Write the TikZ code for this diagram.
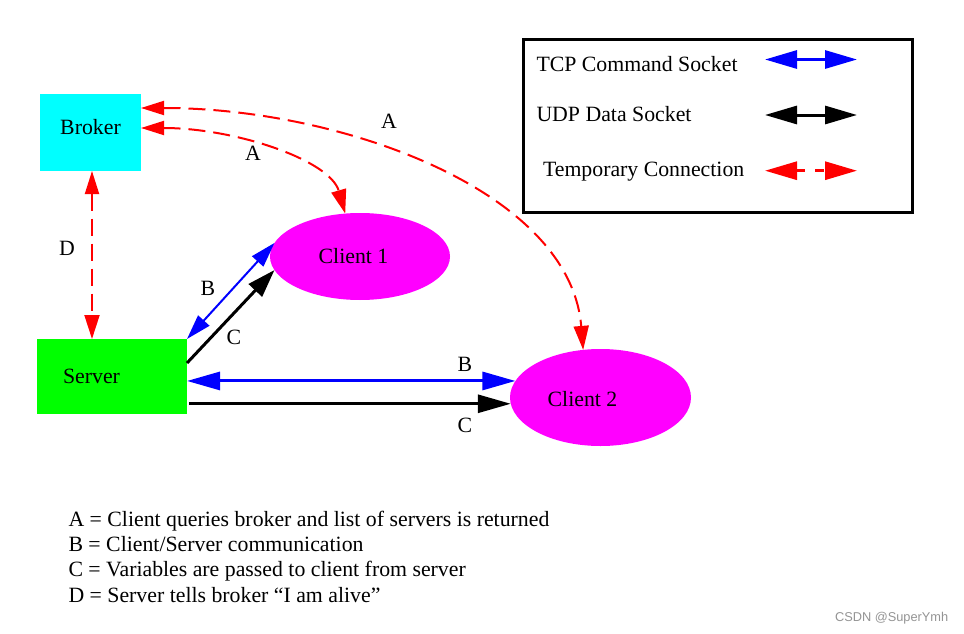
\documentclass[tikz,border=0pt]{standalone}
\usepackage{fontspec}
\setmainfont{Liberation Serif}
\newfontfamily\wmfont{Liberation Sans}
\usetikzlibrary{arrows.meta,shapes.geometric}
\definecolor{cyanx}{RGB}{0,255,255}
\definecolor{magx}{RGB}{255,0,255}
\definecolor{greenx}{RGB}{0,255,0}
\definecolor{bluex}{RGB}{0,0,255}
\definecolor{redx}{RGB}{255,0,0}
\tikzset{
  legtip/.tip={Triangle[length=32pt,width=18pt]}
}
\begin{document}
\begin{tikzpicture}[x=1pt,y=-1pt,
  every node/.style={font=\fontsize{21.8}{26}\selectfont, inner sep=0pt, outer sep=0pt},
  cli/.style={ellipse, fill=magx, draw=none},
  redcon/.style={redx, line width=2pt, dash pattern=on 17pt off 8pt, {Triangle[length=23pt,width=14pt]}-{Triangle[length=24pt,width=15pt]}},
  bluehz/.style={bluex, line width=3pt, {Triangle[length=33pt,width=18pt]}-{Triangle[length=33pt,width=18pt]}},
  blackhz/.style={black, line width=3pt, -{Triangle[length=33pt,width=18pt]}},
  bluedg/.style={bluex, line width=2pt, {Triangle[length=25pt,width=15pt]}-{Triangle[length=25pt,width=15pt]}},
  blackdg/.style={black, line width=3pt, -{Triangle[length=28pt,width=18pt]}},
  lbl/.style={anchor=center},
  legtxt/.style={anchor=base west},
  note/.style={anchor=base west}
]
\useasboundingbox (0,0) rectangle (964,634);

% nodes
\node[rectangle, fill=cyanx, minimum width=101pt, minimum height=77pt] (broker) at (90.5,132.5) {};
\node (brokerlbl) at (90.5,127) {Broker};
\node[rectangle, fill=greenx, minimum width=150pt, minimum height=75pt] (server) at (112,376.5) {};
\node (serverlbl) at (91.5,376.5) {Server};
\node[cli, minimum width=180pt, minimum height=87pt] (client1) at (360,256.5) {};
\node (client1lbl) at (353.5,256.5) {Client 1};
\node[cli, minimum width=181pt, minimum height=97pt] (client2) at (600.5,397.5) {};
\node (client2lbl) at (582.5,399) {Client 2};

% connectors
\draw[redcon] ([yshift=4.5pt]broker.east) .. controls (235,128) and (330,160) .. (client1.109);
\draw[redcon] ([yshift=24.5pt]broker.east) .. controls (340,108) and (570,190) .. (client2.110);
\draw[redcon] ([xshift=1.5pt]broker.south) -- ([xshift=1.5pt]server.north -| broker.south);
\draw[bluedg] (server.north east) -- (client1.171);
\draw[blackdg] ([yshift=13.5pt]server.east) -- (client1.189);
\draw[bluehz] (client2.169 -| server.east) -- (client2.169);
\draw[blackhz] ([xshift=2pt]client2.184 -| server.east) -- (client2.184);

% labels
\node[lbl] (la1) at (253,153) {A};
\node[lbl] (la2) at (389,121) {A};
\node[lbl] (ld) at (67,248) {D};
\node[lbl] (lb1) at (208,288) {B};
\node[lbl] (lc1) at (234,337) {C};
\node[lbl] (lb2) at (465,364) {B};
\node[lbl] (lc2) at (465,425) {C};

% legend
\node[draw, line width=3pt, minimum width=389pt, minimum height=173pt] (legend) at (718,126) {};
\node[legtxt] (lt1) at (536.5,71) {TCP Command Socket};
\node[legtxt] (lt2) at (536.5,121.7) {UDP Data Socket};
\node[legtxt] (lt3) at (543,176.7) {Temporary Connection};
\coordinate (l1a) at (765,59.5); \coordinate (l1b) at (857,59.5);
\coordinate (l2a) at (765,115); \coordinate (l2b) at (857,115);
\coordinate (l3a) at (765,170.7); \coordinate (l3b) at (857,170.7);
\draw[bluex, line width=3pt, {legtip}-{legtip}] (l1a) -- (l1b);
\draw[black, line width=3pt, {legtip}-{legtip}] (l2a) -- (l2b);
\draw[redx, line width=3pt, dash pattern=on 9pt off 10pt, {legtip}-{legtip}] (l3a) -- (l3b);

% notes
\node[note] (n1) at (68.5,526) {A = Client queries broker and list of servers is returned};
\node[note] (n2) at (68.5,551.5) {B = Client/Server communication};
\node[note] (n3) at (68.5,576.8) {C = Variables are passed to client from server};
\node[note] (n4) at (68.5,602) {D = Server tells broker “I am alive”};

% watermark
\node[anchor=west, font=\wmfont\fontsize{12.8}{15}\selectfont, text=black!42] (wm) at (835,618) {CSDN @SuperYmh};
\end{tikzpicture}
\end{document}
